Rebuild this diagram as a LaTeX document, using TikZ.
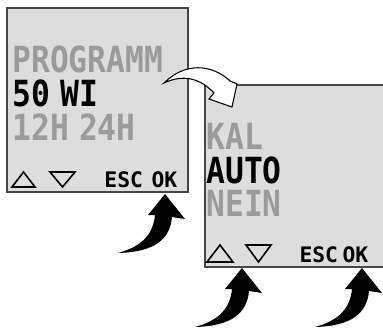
\documentclass[tikz,border=0pt]{standalone}
\usepackage{fontspec}
\newfontfamily\lcdfont{DejaVu Sans Mono}
\definecolor{screengray}{RGB}{221,221,221}
\definecolor{dimtext}{RGB}{155,155,155}
\definecolor{framegray}{RGB}{70,70,70}
\tikzset{every picture/.style={line width=0.75pt}}
\tikzset{
  bigtxt/.style={anchor=base west, inner sep=0pt, xscale=0.87, text height=19pt, text depth=0pt,
    font=\lcdfont\bfseries\fontsize{27}{28}\selectfont},
  smalltxt/.style={anchor=base west, inner sep=0pt, text height=11.5pt, text depth=0pt,
    font=\lcdfont\bfseries\fontsize{16}{16}\selectfont},
  keytri/.style={line width=1.2pt, line join=miter}
}
\newcommand{\lcdgap}{\hspace{0.32em}}
\newcommand{\pushArrow}[1]{%
  \fill[black, shift={#1}] (0,0) -- (20,25) -- (7,23) .. controls (5,45) and (-10,58) .. (-47,59)
    .. controls (-25,53) and (-12,42) .. (-10,21) -- (-17,21) -- cycle;}

\begin{document}
\begin{tikzpicture}[x=0.75pt,y=0.75pt,yscale=-1,xscale=1]
\useasboundingbox (0,0) rectangle (383,329);
%Shape: Rectangle [left screen]
\draw[framegray, fill=screengray, line width=1pt] (7,8) rectangle (188,192);
%Shape: Rectangle [right screen]
\draw[framegray, fill=screengray, line width=1pt] (205,85) rectangle (395,267);
% Text Node
\draw (12,72) node [bigtxt, text=dimtext] (prog) {PROGRAMM};
% Text Node
\draw (12,106) node [bigtxt] (sowi) {50\lcdgap WI};
% Text Node
\draw (12,140) node [bigtxt, text=dimtext] (hours) {12H\lcdgap 24H};
% Text Node
\draw (104,187) node [smalltxt] (escA) {ESC};
% Text Node
\draw (151,187) node [smalltxt] (okA) {OK};
% Text Node
\draw (206,149) node [bigtxt, text=dimtext] (kal) {KAL};
% Text Node
\draw (206,183) node [bigtxt] (auto) {AUTO};
% Text Node
\draw (206,216) node [bigtxt, text=dimtext] (nein) {NEIN};
% Text Node
\draw (299,262) node [smalltxt] (escB) {ESC};
% Text Node
\draw (342,262) node [smalltxt] (okB) {OK};
%Shape: Triangle [up/down keys]
\draw[keytri] (12,187) -- (35,187) -- (23.5,172) -- cycle;
\draw[keytri] (50,172) -- (75,172) -- (62.5,187) -- cycle;
\draw[keytri] (207,262) -- (233,262) -- (220,245) -- cycle;
\draw[keytri] (246,245) -- (271,245) -- (258.5,262) -- cycle;
%Shape: Curved arrow [next screen]
\draw[fill=white, line width=0.8pt, line join=miter] (164,83) .. controls (185,62) and (212,64) .. (230,81)
  -- (237,84) -- (232,107) -- (209,99) -- (214,93) .. controls (200,78) and (183,74) .. (164,83) -- cycle;
%Shape: Curved arrow [press keys]
\pushArrow{(165,194)}
\pushArrow{(242,268)}
\pushArrow{(362,268)}
\end{tikzpicture}
\end{document}
